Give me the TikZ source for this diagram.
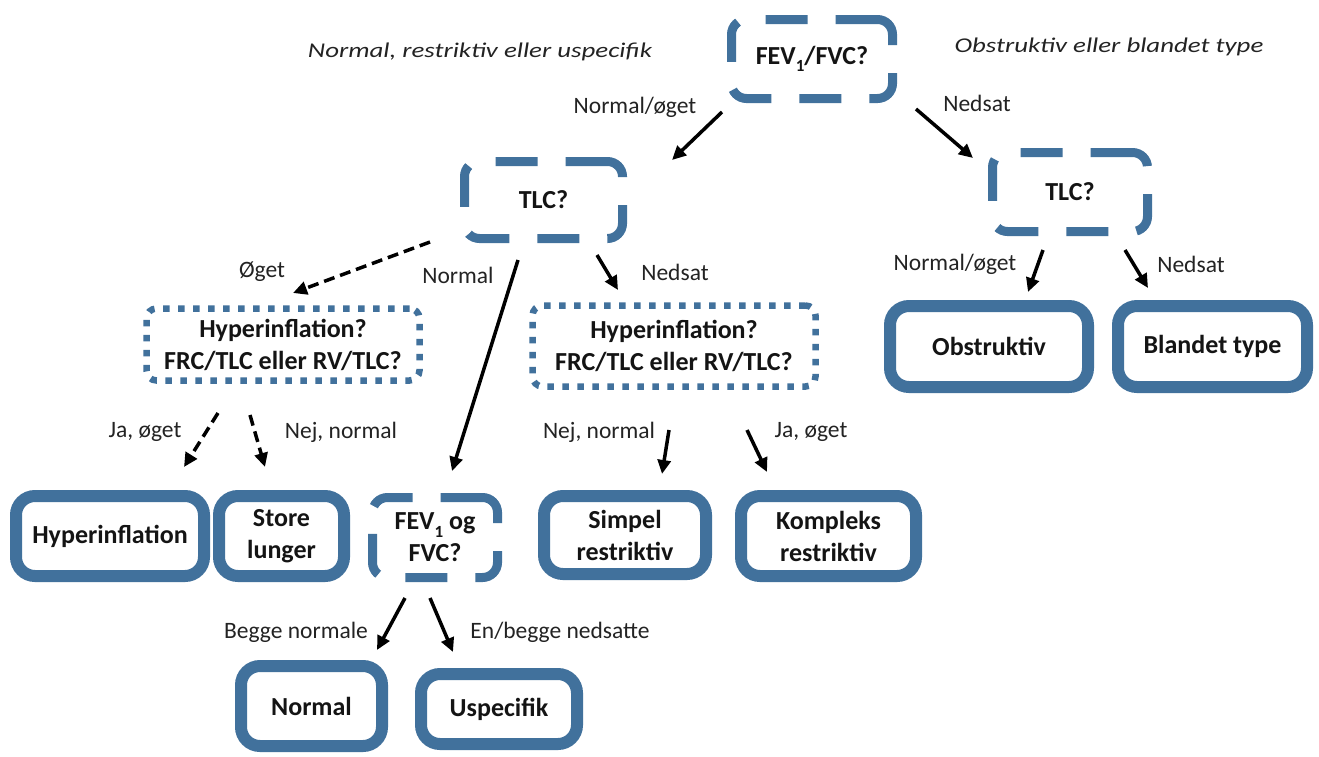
\documentclass[tikz,border=0pt]{standalone}
\usepackage{fontspec}
\setmainfont{Carlito}
\usepackage{graphicx}
\usetikzlibrary{arrows.meta}
\definecolor{boxblue}{RGB}{65,113,156}
\definecolor{txt}{RGB}{20,20,20}
\definecolor{labgray}{RGB}{35,35,35}
\newcommand{\boxfont}{\fontsize{26}{32}\selectfont\bfseries}
\newcommand{\labfont}{\fontsize{23.5}{28}\selectfont}
\newcommand{\headfont}{\fontsize{21}{26}\selectfont\itshape}
\newcommand{\subone}{\raisebox{-0.28em}{\fontsize{17}{17}\selectfont 1}}
\newcommand{\widetext}[1]{\scalebox{1.28}[1]{#1}}
\tikzset{
  box/.style={draw=boxblue, rounded corners=19pt, line width=12pt, inner sep=0pt, align=center, font=\boxfont, text=txt},
  dbox/.style={draw=boxblue, rounded corners=15pt, line width=9pt, dash pattern=on 42pt off 28pt, inner sep=0pt, align=center, font=\boxfont, text=txt},
  obox/.style={draw=boxblue, rounded corners=10pt, line width=6.5pt, dash pattern=on 6.5pt off 8.5pt, inner sep=0pt, align=center, font=\boxfont, text=txt},
  arr/.style={-{Triangle[length=14pt,width=13pt]}, line width=3.5pt, black},
  darr/.style={arr, dash pattern=on 11pt off 6pt},
  lab/.style={font=\labfont, text=labgray, inner sep=0pt},
  head/.style={font=\headfont, text=labgray, inner sep=0pt},
}
\begin{document}
\begin{tikzpicture}[x=1pt,y=-1pt]
\useasboundingbox[fill=white] (0,0) rectangle (1319,756);

% headings
\node[head] (hL) at (480,52) {\widetext{Normal, restriktiv eller uspecifik}};
\node[head] (hR) at (1109,47) {\widetext{Obstruktiv eller blandet type}};

% decision nodes
\node[dbox, minimum width=161pt, minimum height=79pt] (fev) at (812,59) {FEV\subone/FVC?};
\node[dbox, minimum width=158pt, minimum height=77pt] (tlcL) at (543.5,200) {TLC?};
\node[dbox, minimum width=155pt, minimum height=79pt] (tlcR) at (1070,192) {TLC?};
\node[obox, minimum width=273pt, minimum height=72pt] (hypL) at (283,344.5) {Hyperinflation?\\FRC/TLC eller RV/TLC?};
\node[obox, minimum width=283pt, minimum height=81pt] (hypR) at (674,346) {Hyperinflation?\\FRC/TLC eller RV/TLC?};
\node[dbox, minimum width=125pt, minimum height=80pt] (fevfvc) at (435,537.5) {FEV\subone{} og\\FVC?};

% result nodes
\node[box, minimum width=198pt, minimum height=81pt] (obs) at (989,346.5) {Obstruktiv};
\node[box, minimum width=189pt, minimum height=81pt] (bla) at (1212.5,346.5) {Blandet type};
\node[box, minimum width=188pt, minimum height=80pt] (hyp) at (110,536) {Hyperinflation};
\node[box, minimum width=125pt, minimum height=80pt] (store) at (281.5,536) {Store\\lunger};
\node[box, minimum width=162pt, minimum height=78pt] (simpel) at (625,535) {Simpel\\restriktiv};
\node[box, minimum width=175pt, minimum height=80pt] (kompleks) at (828.5,536) {Kompleks\\restriktiv};
\node[box, minimum width=141pt, minimum height=80pt] (normal) at (311.5,706) {Normal};
\node[box, minimum width=156pt, minimum height=70pt] (usp) at (499,709) {Uspecifik};

% arrow end points
\coordinate (a1s) at (722,112);  \coordinate (a1e) at (672,160);
\coordinate (a2s) at (916,109);  \coordinate (a2e) at (973,158);
\coordinate (a3s) at (430,242);  \coordinate (a3e) at (293,293);
\coordinate (a4s) at (518,260);  \coordinate (a4e) at (452,471);
\coordinate (a5s) at (597,255);  \coordinate (a5e) at (618,290);
\coordinate (a6s) at (1043,250); \coordinate (a6e) at (1028,292);
\coordinate (a7s) at (1125,250); \coordinate (a7e) at (1148,288);
\coordinate (a8s) at (218,413);  \coordinate (a8e) at (184,467);
\coordinate (a9s) at (250,415);  \coordinate (a9e) at (265,467);
\coordinate (a10s) at (669,430); \coordinate (a10e) at (662,474);
\coordinate (a11s) at (747,430); \coordinate (a11e) at (767,472);
\coordinate (a12s) at (405,598); \coordinate (a12e) at (377,650);
\coordinate (a13s) at (430,598); \coordinate (a13e) at (453,652);

% connectors
\draw[arr] (a1s) -- (a1e);
\draw[arr] (a2s) -- (a2e);
\draw[darr] (a3s) -- (a3e);
\draw[arr] (a4s) -- (a4e);
\draw[arr] (a5s) -- (a5e);
\draw[arr] (a6s) -- (a6e);
\draw[arr] (a7s) -- (a7e);
\draw[darr] (a8s) -- (a8e);
\draw[darr] (a9s) -- (a9e);
\draw[arr] (a10s) -- (a10e);
\draw[arr] (a11s) -- (a11e);
\draw[arr] (a12s) -- (a12e);
\draw[arr] (a13s) -- (a13e);

% labels
\node[lab] (l1) at (635,107) {Normal/øget};
\node[lab] (l2) at (977,103) {Nedsat};
\node[lab] (l3) at (262,272) {Øget};
\node[lab] (l4) at (458,275) {Normal};
\node[lab] (l5) at (675,272) {Nedsat};
\node[lab] (l6) at (955,264) {Normal/øget};
\node[lab] (l7) at (1191,264) {Nedsat};
\node[lab] (l8) at (145,432) {Ja, øget};
\node[lab] (l9) at (341,432) {Nej, normal};
\node[lab] (l10) at (599,432) {Nej, normal};
\node[lab] (l11) at (811,432) {Ja, øget};
\node[lab] (l12) at (296,632) {Begge normale};
\node[lab] (l13) at (560,632) {En/begge nedsatte};
\end{tikzpicture}
\end{document}
